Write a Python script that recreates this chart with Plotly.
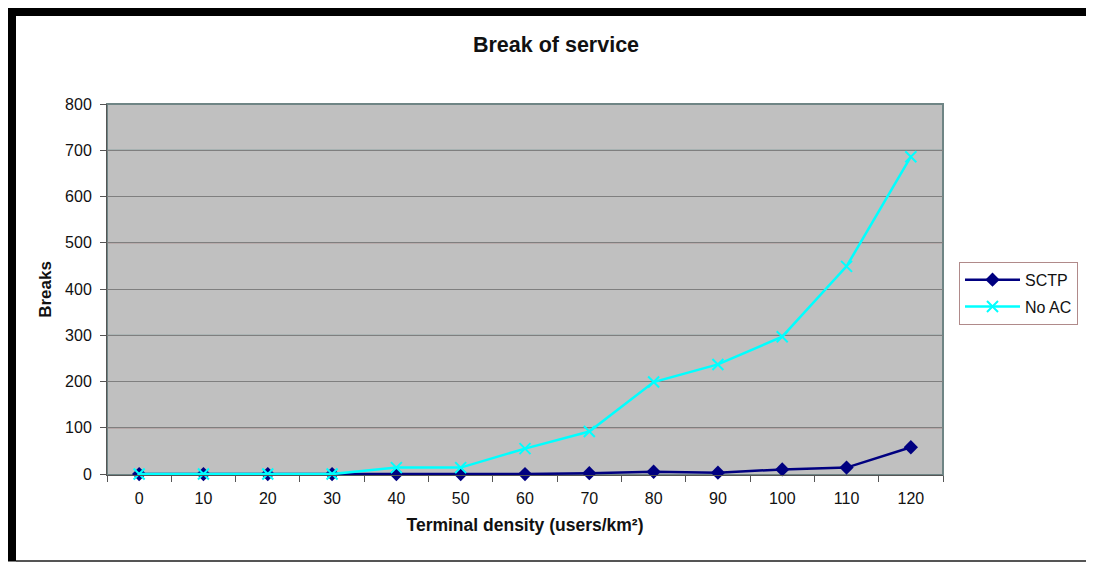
import plotly.graph_objects as go

# ---- data ----
densities = [0, 10, 20, 30, 40, 50, 60, 70, 80, 90, 100, 110, 120]
x_labels = [str(d) for d in densities]
sctp = [0, 0, 0, 0, 0, 0, 0, 2, 5, 3, 10, 14, 58]
no_ac = [0, 0, 0, 0, 14, 14, 55, 92, 199, 237, 297, 449, 686]
y_ticks = [0, 100, 200, 300, 400, 500, 600, 700, 800]
red_grid = [100, 500]
teal_grid = [300, 700]

# page offset: the html body has an 8px margin
OFF = 8
W, H = 1094 - OFF, 563 - OFF
L, R, T, B = 107 - OFF, 943 - OFF, 104 - OFF, 475.5 - OFF
pw, ph = R - L, B - T


def px(x):
    return (x - OFF - L) / pw


def py(y):
    return (B - (y - OFF)) / ph


FONT = "Liberation Sans, Arial, sans-serif"

fig = go.Figure()
fig.add_trace(go.Scatter(
    x=x_labels, y=sctp, name="SCTP", mode="lines+markers", legendgroup="a",
    line=dict(color="#000080", width=2.5), cliponaxis=False,
    marker=dict(symbol="diamond", size=11, color="#000080"),
))
fig.add_trace(go.Scatter(
    x=x_labels, y=no_ac, name="No AC", mode="lines+markers", legendgroup="b",
    line=dict(color="#00ffff", width=2.5), cliponaxis=False,
    marker=dict(symbol="x-thin", size=11, color="#00ffff",
                line=dict(color="#00ffff", width=2)),
))

shapes = []
for v in red_grid:
    shapes.append(dict(type="line", xref="paper", yref="y", x0=0, x1=1, y0=v, y1=v,
                       line=dict(color="#a07070", width=1), layer="below"))
for v in teal_grid:
    shapes.append(dict(type="line", xref="paper", yref="y", x0=0, x1=1, y0=v, y1=v,
                       line=dict(color="#5f8a8a", width=1), layer="below"))
# plot-area frame (top/right)
shapes.append(dict(type="rect", xref="paper", yref="paper", x0=0, x1=1, y0=0, y1=1,
                   line=dict(color="#6f8585", width=2), layer="below"))
# page decoration: black bars and thin lines
shapes.append(dict(type="rect", xref="paper", yref="paper",
                   x0=px(6), x1=px(16), y0=py(562), y1=py(6),
                   fillcolor="black", line=dict(width=0)))
shapes.append(dict(type="rect", xref="paper", yref="paper",
                   x0=px(6), x1=px(1094), y0=py(16), y1=py(6),
                   fillcolor="black", line=dict(width=0)))
shapes.append(dict(type="line", xref="paper", yref="paper",
                   x0=px(16), x1=px(1094), y0=py(561.5), y1=py(561.5),
                   line=dict(color="#555555", width=2)))
shapes.append(dict(type="line", xref="paper", yref="paper",
                   x0=px(1090), x1=px(1090), y0=py(561), y1=py(16),
                   line=dict(color="#dddddd", width=1)))

fig.update_layout(
    width=W, height=H,
    margin=dict(l=L, r=W - R, t=T, b=H - B, autoexpand=False),
    paper_bgcolor="white",
    plot_bgcolor="#c0c0c0",
    font=dict(family=FONT, color="#111111", size=16),
    title=dict(text="<b>Break of service</b>", x=(556 - OFF) / W, xanchor="center",
               y=1 - (44 - OFF) / H, yanchor="middle",
               font=dict(family=FONT, size=21.5, color="#111111")),
    xaxis=dict(
        type="category", categoryorder="array", categoryarray=x_labels,
        tickson="boundaries", ticks="outside", ticklen=6, tickcolor="#555555",
        showgrid=False, showline=True, linecolor="#555555", linewidth=1,
        tickfont=dict(size=16), ticklabelstandoff=9,
        title=dict(text="<b>Terminal density (users/km²)</b>", font=dict(size=17.5),
                   standoff=12),
        range=[-0.5, 12.5], zeroline=False,
    ),
    yaxis=dict(
        range=[-2, 800], tickvals=y_ticks, ticks="outside", ticklen=6,
        tickcolor="#555555", showgrid=True, gridcolor="#7f7f7f", gridwidth=1,
        showline=True, linecolor="#555555", linewidth=1, zeroline=False,
        tickfont=dict(size=16), ticklabelstandoff=5,
        title=dict(text="<b>Breaks</b>", font=dict(size=17), standoff=9),
    ),
    legend=dict(
        x=px(959), y=py(262), xanchor="left", yanchor="top",
        bgcolor="white", bordercolor="#b08a8a", borderwidth=1,
        font=dict(size=16, color="#111111"),
        tracegroupgap=3, itemwidth=55,
    ),
    shapes=shapes,
    showlegend=True,
)

fig.write_html("out.html")
